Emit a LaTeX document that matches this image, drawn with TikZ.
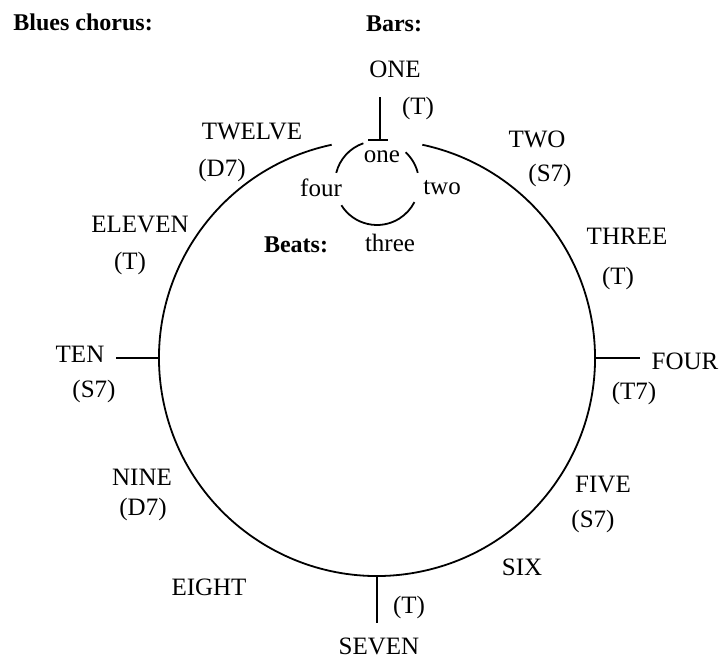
\documentclass[tikz,border=0pt]{standalone}
\usepackage{fontspec}
\setmainfont{Liberation Serif}

\begin{document}
\begin{tikzpicture}[
    x=0.5pt, y=0.5pt,
    lbl/.style={anchor=base, inner sep=0pt, font=\fontsize{12.5}{14}\selectfont},
    head/.style={lbl, font=\fontsize{12}{14}\selectfont\bfseries},
    ring/.style={line width=0.9pt},
    tick/.style={line width=0.9pt}
]
    \useasboundingbox (0,0) rectangle (722,659);
    \coordinate (bars)  at (377,301);
    \coordinate (beats) at (377,476);

    \node[head, anchor=base west] (title) at (13,628) {Blues chorus:};
    \node[head] (barslbl)  at (394,627) {Bars:};
    \node[head] (beatslbl) at (296,406) {Beats:};

    % bar circle, left open at the top where the beat circle sits
    \draw[ring] (bars) ++(102:218) arc[start angle=102, end angle=438, radius=218];

    % beat circle, with gaps for its labels
    \draw[ring] (beats) ++(109:42) arc[start angle=109, end angle=166, radius=42];
    \draw[ring] (beats) ++(212:42) arc[start angle=212, end angle=333, radius=42];
    \draw[ring] (beats) ++(14:42)  arc[start angle=14,  end angle=47,  radius=42];

    \node[lbl] (bone)   at (382,496) {one};
    \node[lbl] (btwo)   at (442,464) {two};
    \node[lbl] (bthree) at (390,407) {three};
    \node[lbl] (bfour)  at (321,462) {four};

    % bar markers
    \coordinate (top) at (380,519);
    \draw[line width=1.3pt] (top) -- ++(0,43) coordinate (topend);
    \draw[tick] (368,519) -- (388,519);
    \path (bars) ++(0:218)   coordinate (right);
    \path (bars) ++(180:218) coordinate (left);
    \path (bars) ++(270:218) coordinate (bottom);
    \draw[tick] (right)  -- ++(45,0)  coordinate (rightend);
    \draw[tick] (left)   -- ++(-43,0) coordinate (leftend);
    \draw[tick] (bottom) -- ++(0,-47) coordinate (bottomend);

    \node[lbl] (one)     at (395,581) {ONE};
    \node[lbl] (onech)   at (418,544) {(T)};
    \node[lbl] (two)     at (537,511) {TWO};
    \node[lbl] (twoch)   at (550,477) {(S7)};
    \node[lbl] (three)   at (627,414) {THREE};
    \node[lbl] (threech) at (618,374) {(T)};
    \node[lbl] (four)    at (685,289) {FOUR};
    \node[lbl] (fourch)  at (634,259) {(T7)};
    \node[lbl] (five)    at (603,167) {FIVE};
    \node[lbl] (fivech)  at (593,132) {(S7)};
    \node[lbl] (six)     at (522,84)  {SIX};
    \node[lbl] (sevench) at (409,46)  {(T)};
    \node[lbl] (seven)   at (379,5)   {SEVEN};
    \node[lbl] (eight)   at (209,64)  {EIGHT};
    \node[lbl] (nine)    at (142,174) {NINE};
    \node[lbl] (ninech)  at (143,144) {(D7)};
    \node[lbl] (ten)     at (80,296)  {TEN};
    \node[lbl] (tench)   at (94,262)  {(S7)};
    \node[lbl] (eleven)  at (140,426) {ELEVEN};
    \node[lbl] (elevench) at (130,389) {(T)};
    \node[lbl] (twelve)  at (252,519) {TWELVE};
    \node[lbl] (twelvech) at (222,482) {(D7)};
\end{tikzpicture}
\end{document}
